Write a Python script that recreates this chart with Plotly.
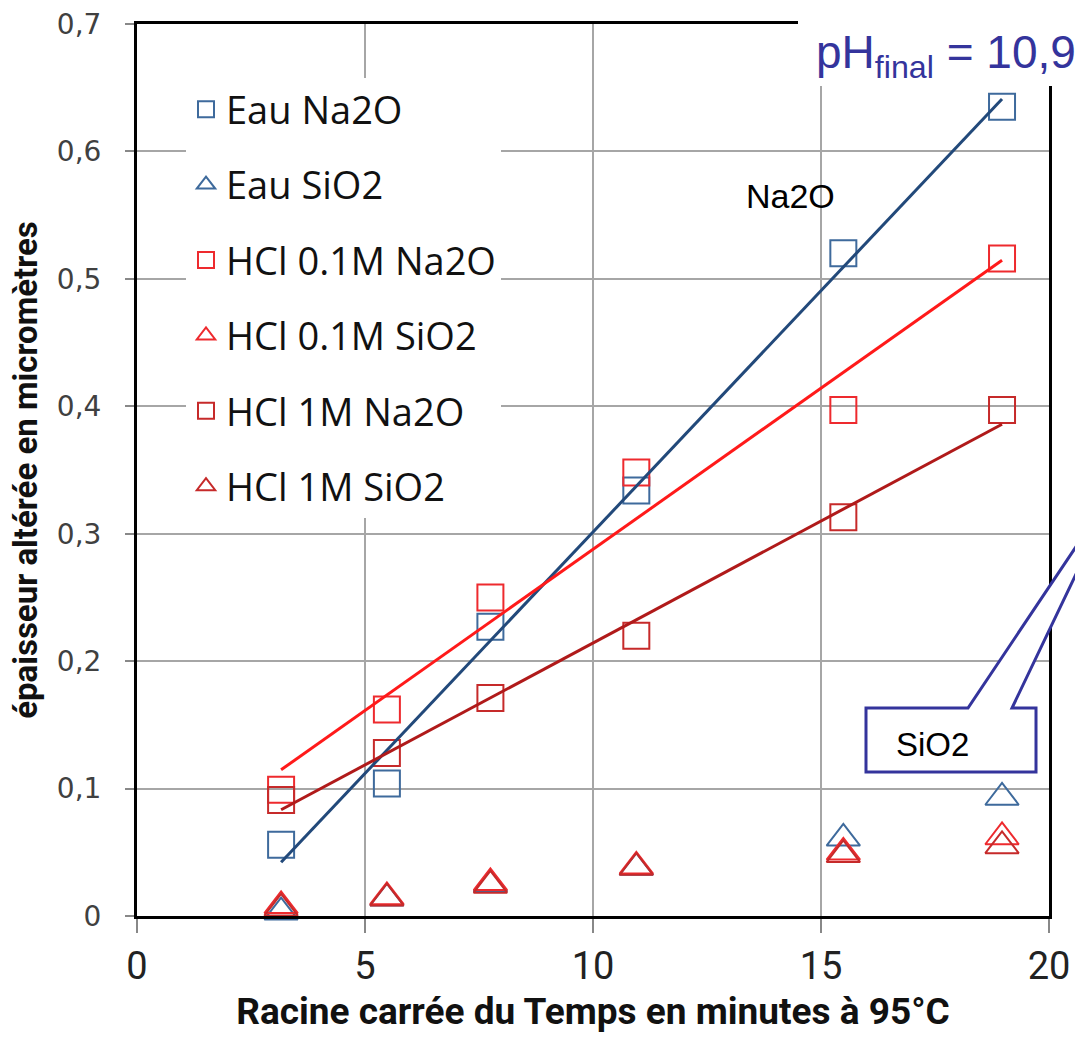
import numpy as np
import plotly.graph_objects as go

# ---------------- data ----------------
x_vals = [3.16, 5.48, 7.75, 10.95, 15.49, 18.97]  # racine carrée du temps (min)

eau_na2o = [0.056, 0.104, 0.227, 0.334, 0.520, 0.635]
eau_sio2 = [0.003, 0.014, 0.025, 0.038, 0.061, 0.093]
hcl01_na2o = [0.099, 0.162, 0.250, 0.348, 0.397, 0.516]
hcl01_sio2 = [0.008, 0.015, 0.026, 0.039, 0.050, 0.062]
hcl1_na2o = [0.091, 0.128, 0.171, 0.220, 0.313, 0.397]
hcl1_sio2 = [0.006, 0.014, 0.024, 0.038, 0.048, 0.055]

series_names = ["Eau Na2O", "Eau SiO2", "HCl 0.1M Na2O", "HCl 0.1M SiO2", "HCl 1M Na2O", "HCl 1M SiO2"]
x_ticks = [0, 5, 10, 15, 20]
y_ticks = [0, 0.1, 0.2, 0.3, 0.4, 0.5, 0.6, 0.7]
y_tick_text = ["0", "0,1", "0,2", "0,3", "0,4", "0,5", "0,6", "0,7"]

# ---------------- styles ----------------
C_EAU_M = "#3E6A9C"
C_EAU_L = "#22497A"
C_01_M = "#EE2A2E"
C_01_L = "#FF1A1A"
C_1_M = "#C62A2A"
C_1_L = "#B01A1A"

W, H = 1075, 1052
L, R, T, B = 137, 1049, 24, 916   # plot area in pixels


def px(xpix):
    return (xpix - L) / (R - L)


def py(ypix):
    return (B - ypix) / (B - T)


fig = go.Figure()

marker_sets = [
    (series_names[0], eau_na2o, "square-open", C_EAU_M, 26),
    (series_names[1], eau_sio2, "triangle-up-open", C_EAU_M, 29),
    (series_names[2], hcl01_na2o, "square-open", C_01_M, 26),
    (series_names[3], hcl01_sio2, "triangle-up-open", C_01_M, 29),
    (series_names[4], hcl1_na2o, "square-open", C_1_M, 26),
    (series_names[5], hcl1_sio2, "triangle-up-open", C_1_M, 29),
]

for i, (name, ys, sym, col, sz) in enumerate(marker_sets):
    fig.add_trace(go.Scatter(
        x=x_vals, y=ys, mode="markers", name=name, legendgroup=f"g{i}",
        marker=dict(symbol=sym, size=sz, color=col, line=dict(width=2, color=col)),
        cliponaxis=False,
    ))

# linear trend lines (computed from the data)
for ys, col in [(eau_na2o, C_EAU_L), (hcl01_na2o, C_01_L), (hcl1_na2o, C_1_L)]:
    a, b = np.polyfit(x_vals, ys, 1)
    xs = [min(x_vals), max(x_vals)]
    fig.add_trace(go.Scatter(
        x=xs, y=[a * v + b for v in xs], mode="lines", showlegend=False,
        line=dict(color=col, width=3), hoverinfo="skip",
    ))

fig.update_layout(
    width=W, height=H,
    margin=dict(l=L, r=W - R, t=T, b=H - B),
    paper_bgcolor="white", plot_bgcolor="white",
    showlegend=True,
    legend=dict(
        x=px(186), y=py(78), xanchor="left", yanchor="top",
        bgcolor="white", borderwidth=0,
        font=dict(family="Open Sans", size=38, color="#111111"),
        tracegroupgap=23, itemsizing="trace",
    ),
    xaxis=dict(
        range=[0, 20], tickvals=x_ticks, ticktext=[str(v) for v in x_ticks],
        automargin=False,
        showgrid=True, gridcolor="#A6A6A6", gridwidth=2,
        showline=True, linecolor="black", linewidth=3, mirror=True,
        ticks="outside", ticklen=14, tickcolor="#888888", tickwidth=2,
        tickfont=dict(family="Liberation Sans Narrow, Roboto", size=38, color="#222222"),
        zeroline=False,
        title=dict(text="<b>Racine carrée du Temps en minutes à 95°C</b>",
                   font=dict(family="Liberation Sans Narrow, Roboto", size=37, color="#111111"),
                   standoff=12),
    ),
    yaxis=dict(
        range=[0, 0.7], tickvals=y_ticks, ticktext=y_tick_text,
        automargin=False,
        showgrid=True, gridcolor="#A6A6A6", gridwidth=2,
        showline=True, linecolor="black", linewidth=3, mirror=True,
        ticks="outside", ticklen=9, tickcolor="#888888", tickwidth=2,
        ticklabelstandoff=18,
        tickfont=dict(family="DejaVu Sans", size=28, color="#404040"),
        zeroline=False,
        title=dict(text="<b>épaisseur altérée en micromètres</b>",
                   font=dict(family="Liberation Sans Narrow, Roboto", size=33, color="#111111"),
                   standoff=10),
    ),
)

# white box behind the pH label (covers the top-right frame)
fig.add_shape(type="rect", xref="paper", yref="paper",
              x0=px(798), x1=px(1090), y0=py(86), y1=py(-10),
              fillcolor="white", line=dict(width=0), layer="above")

fig.add_annotation(xref="paper", yref="paper", x=px(814), y=py(55),
                   xanchor="left", yanchor="middle", showarrow=False,
                   text="pH<sub>final</sub> = 10,9",
                   font=dict(family="Liberation Sans, Arial", size=46, color="#34349C"))

fig.add_annotation(xref="paper", yref="paper", x=px(790), y=py(196),
                   xanchor="center", yanchor="middle", showarrow=False,
                   text="Na2O", font=dict(family="Liberation Sans, Arial", size=34, color="black"))

# SiO2 callout
pts = [(866, 708), (968, 708), (1122, 478), (1012, 708), (1036, 708), (1036, 772), (866, 772)]
path = "M " + " L ".join(f"{px(a):.5f},{py(b):.5f}" for a, b in pts) + " Z"
fig.add_shape(type="path", xref="paper", yref="paper", path=path,
              fillcolor="white", line=dict(color="#34349C", width=3), layer="above")
fig.add_annotation(xref="paper", yref="paper", x=px(932), y=py(744),
                   xanchor="center", yanchor="middle", showarrow=False,
                   text="SiO2", font=dict(family="Liberation Sans, Arial", size=33, color="black"))

fig.write_html("out.html")
